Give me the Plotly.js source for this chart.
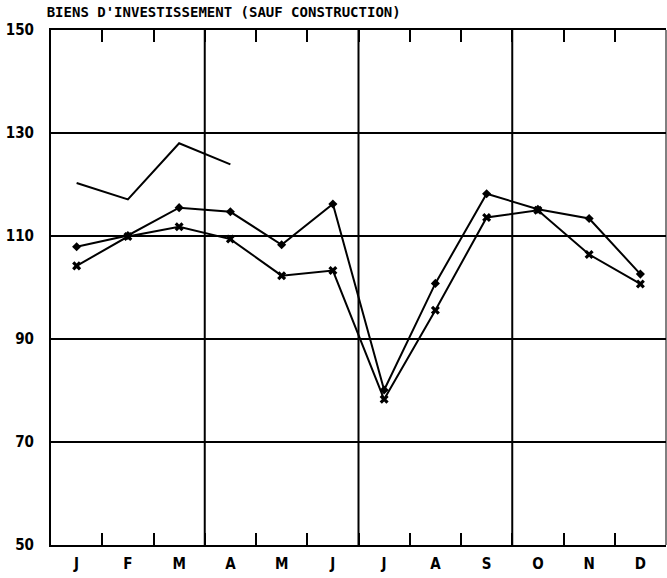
<!DOCTYPE html>
<html>
<head>
<meta charset="utf-8">
<script src="https://cdn.plot.ly/plotly-3.0.1.min.js"></script>
<style>html,body{margin:0;padding:0;background:#fff;}#chart{width:667px;height:578px;}</style>
</head>
<body>
<div id="chart"></div>
<script>
// ---- data ----
const months = ['J','F','M','A','M','J','J','A','S','O','N','D'];
const prevYear = [120.3, 117.1, 128.0, 123.9];
const seriesDiamond = [107.9, 110.1, 115.5, 114.7, 108.3, 116.2, 80.1, 100.8, 118.2, 115.2, 113.4, 102.6];
const seriesCross = [104.2, 109.9, 111.8, 109.4, 102.3, 103.3, 78.3, 95.6, 113.6, 115.0, 106.4, 100.7];
const yTicks = [50, 70, 90, 110, 130, 150];
const titleText = "BIENS D'INVESTISSEMENT (SAUF CONSTRUCTION)";

const xIdx = months.map((m, i) => i + 1);
const monthBounds = months.slice(1).map((m, i) => i + 1.5);
const quarterBounds = monthBounds.filter((b, i) => (i + 1) % 3 === 0);

const lineStyle = {color: '#000', width: 2};
const traces = [
  {x: xIdx.slice(0, prevYear.length), y: prevYear, mode: 'lines', line: lineStyle, hoverinfo: 'skip'},
  {x: xIdx, y: seriesDiamond, mode: 'lines+markers', line: lineStyle,
   marker: {symbol: 'diamond', size: 7, color: '#000'}},
  {x: xIdx, y: seriesCross, mode: 'lines+markers', line: lineStyle,
   marker: {symbol: 'x', size: 8, color: '#000'}}
];

const tickFont = {family: 'DejaVu Sans Condensed, DejaVu Sans', size: 15, color: '#000', weight: 'bold'};

const layout = {
  width: 667, height: 578,
  margin: {l: 51, r: 1, t: 30, b: 33},
  paper_bgcolor: '#fff', plot_bgcolor: '#fff',
  showlegend: false,
  title: {
    text: titleText,
    font: {family: 'DejaVu Sans Mono', size: 14, color: '#000', weight: 'bold'},
    xref: 'container', yref: 'container',
    x: 0.07, xanchor: 'left', y: 1 - 12 / 578, yanchor: 'middle'
  },
  xaxis: {
    range: [0.5, 12.5],
    tickmode: 'array', tickvals: xIdx, ticktext: months,
    ticks: '', showgrid: false, zeroline: false,
    showline: true, linecolor: '#000', linewidth: 2,
    mirror: 'ticks',
    tickfont: tickFont, ticklabelstandoff: 4,
    minor: {tickmode: 'array', tickvals: monthBounds, ticks: 'inside', ticklen: 12, tickwidth: 2, tickcolor: '#000', showgrid: false}
  },
  yaxis: {
    range: [50, 150],
    tickmode: 'array', tickvals: yTicks, ticktext: yTicks.map(String),
    ticks: '', showgrid: true, gridcolor: '#000', gridwidth: 2,
    zeroline: false, showline: true, linecolor: '#000', linewidth: 2,
    tickfont: tickFont, ticklabelstandoff: 12
  },
  shapes: quarterBounds.map(q => ({
    type: 'line', xref: 'x', yref: 'paper', x0: q, x1: q, y0: 0, y1: 1,
    line: {color: '#000', width: 2}, layer: 'below'
  })).concat([{
    type: 'line', xref: 'paper', yref: 'paper', x0: 1, x1: 1, y0: 0, y1: 1,
    line: {color: '#000', width: 1}, layer: 'below'
  }])
};

Plotly.newPlot('chart', traces, layout, {displayModeBar: false, staticPlot: true});
</script>
</body>
</html>
